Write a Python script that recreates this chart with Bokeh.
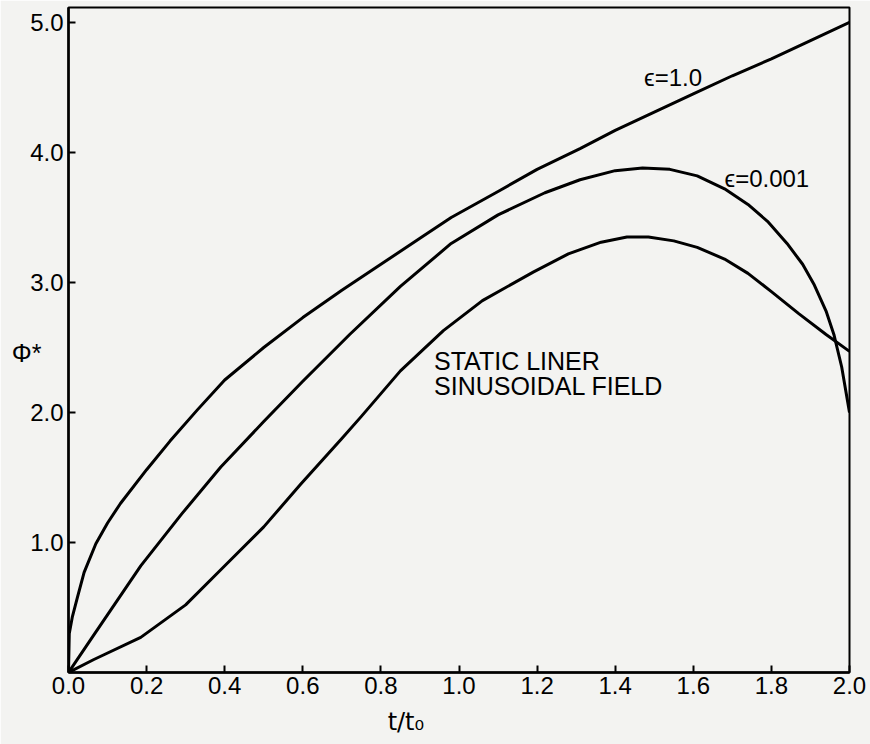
from bokeh.plotting import figure
from bokeh.models import Range1d, FixedTicker, LinearAxis
from bokeh.core.properties import value
from bokeh.embed import file_html
from bokeh.resources import INLINE

# ---- data ----
t_top = [0.0, 0.002, 0.01, 0.023, 0.04, 0.07, 0.10, 0.133, 0.20, 0.26, 0.33, 0.40, 0.50, 0.60, 0.70,
         0.80, 0.90, 0.98, 1.10, 1.20, 1.31, 1.40, 1.50, 1.60, 1.70, 1.80, 1.90, 2.00]
phi_top = [0.0, 0.30, 0.43, 0.58, 0.77, 0.99, 1.15, 1.30, 1.56, 1.78, 2.02, 2.25, 2.50, 2.73, 2.94,
           3.14, 3.34, 3.50, 3.70, 3.87, 4.03, 4.17, 4.31, 4.45, 4.59, 4.72, 4.86, 5.00]

t_mid = [0.0, 0.065, 0.185, 0.29, 0.39, 0.50, 0.60, 0.72, 0.85, 0.98, 1.10, 1.22, 1.31, 1.40,
         1.47, 1.54, 1.61, 1.68, 1.74, 1.79, 1.84, 1.88, 1.91, 1.94, 1.96, 1.98, 2.00]
phi_mid = [0.0, 0.29, 0.82, 1.22, 1.58, 1.93, 2.24, 2.60, 2.97, 3.30, 3.52, 3.69, 3.79, 3.86,
           3.88, 3.87, 3.82, 3.72, 3.60, 3.47, 3.30, 3.14, 2.98, 2.78, 2.60, 2.35, 2.00]

t_bot = [0.0, 0.065, 0.185, 0.30, 0.39, 0.50, 0.595, 0.70, 0.75, 0.85, 0.96, 1.06, 1.19, 1.28,
         1.364, 1.43, 1.485, 1.55, 1.61, 1.68, 1.74, 1.80, 1.87, 1.94, 2.00]
phi_bot = [0.0, 0.10, 0.27, 0.52, 0.79, 1.12, 1.45, 1.80, 1.97, 2.32, 2.63, 2.86, 3.08, 3.22,
           3.31, 3.35, 3.35, 3.32, 3.27, 3.18, 3.07, 2.93, 2.76, 2.60, 2.47]

x_ticks = [0.0, 0.2, 0.4, 0.6, 0.8, 1.0, 1.2, 1.4, 1.6, 1.8, 2.0]
y_ticks = [1.0, 2.0, 3.0, 4.0, 5.0]

curve_labels = ["\u03f5=1.0", "\u03f5=0.001"]
curve_label_t = [1.474, 1.68]
curve_label_phi = [4.58, 3.80]

note_lines = ["STATIC LINER", "SINUSOIDAL FIELD"]
note_t = [0.936, 0.936]
note_phi = [2.50, 2.31]

x_title = "t/t\u2080"
y_title = "\u03a6*"
y_title_pos = 2.46
x_title_pos = 0.864

FONT = "Liberation Sans"
BG = "#f3f3f1"

p = figure(width=870, height=744, output_backend="svg", toolbar_location=None,
           x_range=Range1d(0, 2.0), y_range=Range1d(0, 5.115),
           min_border_left=68, min_border_right=21, min_border_top=7, min_border_bottom=72)
p.title = None
p.background_fill_color = BG
p.border_fill_color = BG
p.outline_line_color = "black"
p.outline_line_width = 2
p.grid.visible = False

for ax in (p.xaxis[0], p.yaxis[0]):
    ax.axis_line_width = 2.5
    ax.axis_line_color = "black"
    ax.major_tick_in = 7
    ax.major_tick_out = 0
    ax.major_tick_line_width = 2
    ax.minor_tick_line_color = None
    ax.major_label_text_font = FONT
    ax.major_label_text_font_size = "24px"
    ax.major_label_text_color = "black"
p.xaxis[0].major_label_standoff = 4
p.yaxis[0].major_label_standoff = 5

p.xaxis[0].ticker = FixedTicker(ticks=x_ticks)
p.yaxis[0].ticker = FixedTicker(ticks=y_ticks)
p.xaxis[0].major_label_overrides = {v: f"{v:.1f}" for v in x_ticks}
p.yaxis[0].major_label_overrides = {v: f"{v:.1f}" for v in y_ticks}

# axis titles as tick-less secondary axes
ytitle_axis = LinearAxis(ticker=FixedTicker(ticks=[y_title_pos]), major_label_overrides={y_title_pos: y_title},
                         axis_line_color=None, major_tick_line_color=None, minor_tick_line_color=None,
                         major_tick_in=0, major_tick_out=0,
                         major_label_standoff=-14, major_label_text_font=FONT,
                         major_label_text_font_size="25px", major_label_text_color="black")
p.add_layout(ytitle_axis, "left")

xtitle_axis = LinearAxis(ticker=FixedTicker(ticks=[x_title_pos]), major_label_overrides={x_title_pos: x_title},
                         axis_line_color=None, major_tick_line_color=None, minor_tick_line_color=None,
                         major_tick_in=0, major_tick_out=0,
                         major_label_standoff=11, major_label_text_font="DejaVu Sans",
                         major_label_text_font_size="24px", major_label_text_color="black")
p.add_layout(xtitle_axis, "below")

for tt, pp in ((t_top, phi_top), (t_mid, phi_mid), (t_bot, phi_bot)):
    p.line(tt, pp, line_color="black", line_width=3, line_join="round")

p.text(x=curve_label_t, y=curve_label_phi, text=curve_labels,
       text_font=value(FONT), text_font_size="24px", text_color="black",
       text_baseline="middle", text_align="left")
p.text(x=note_t, y=note_phi, text=note_lines,
       text_font=value(FONT), text_font_size="25px", text_color="black",
       text_baseline="top", text_align="left")

open("out.html", "w").write(file_html(p, INLINE))
